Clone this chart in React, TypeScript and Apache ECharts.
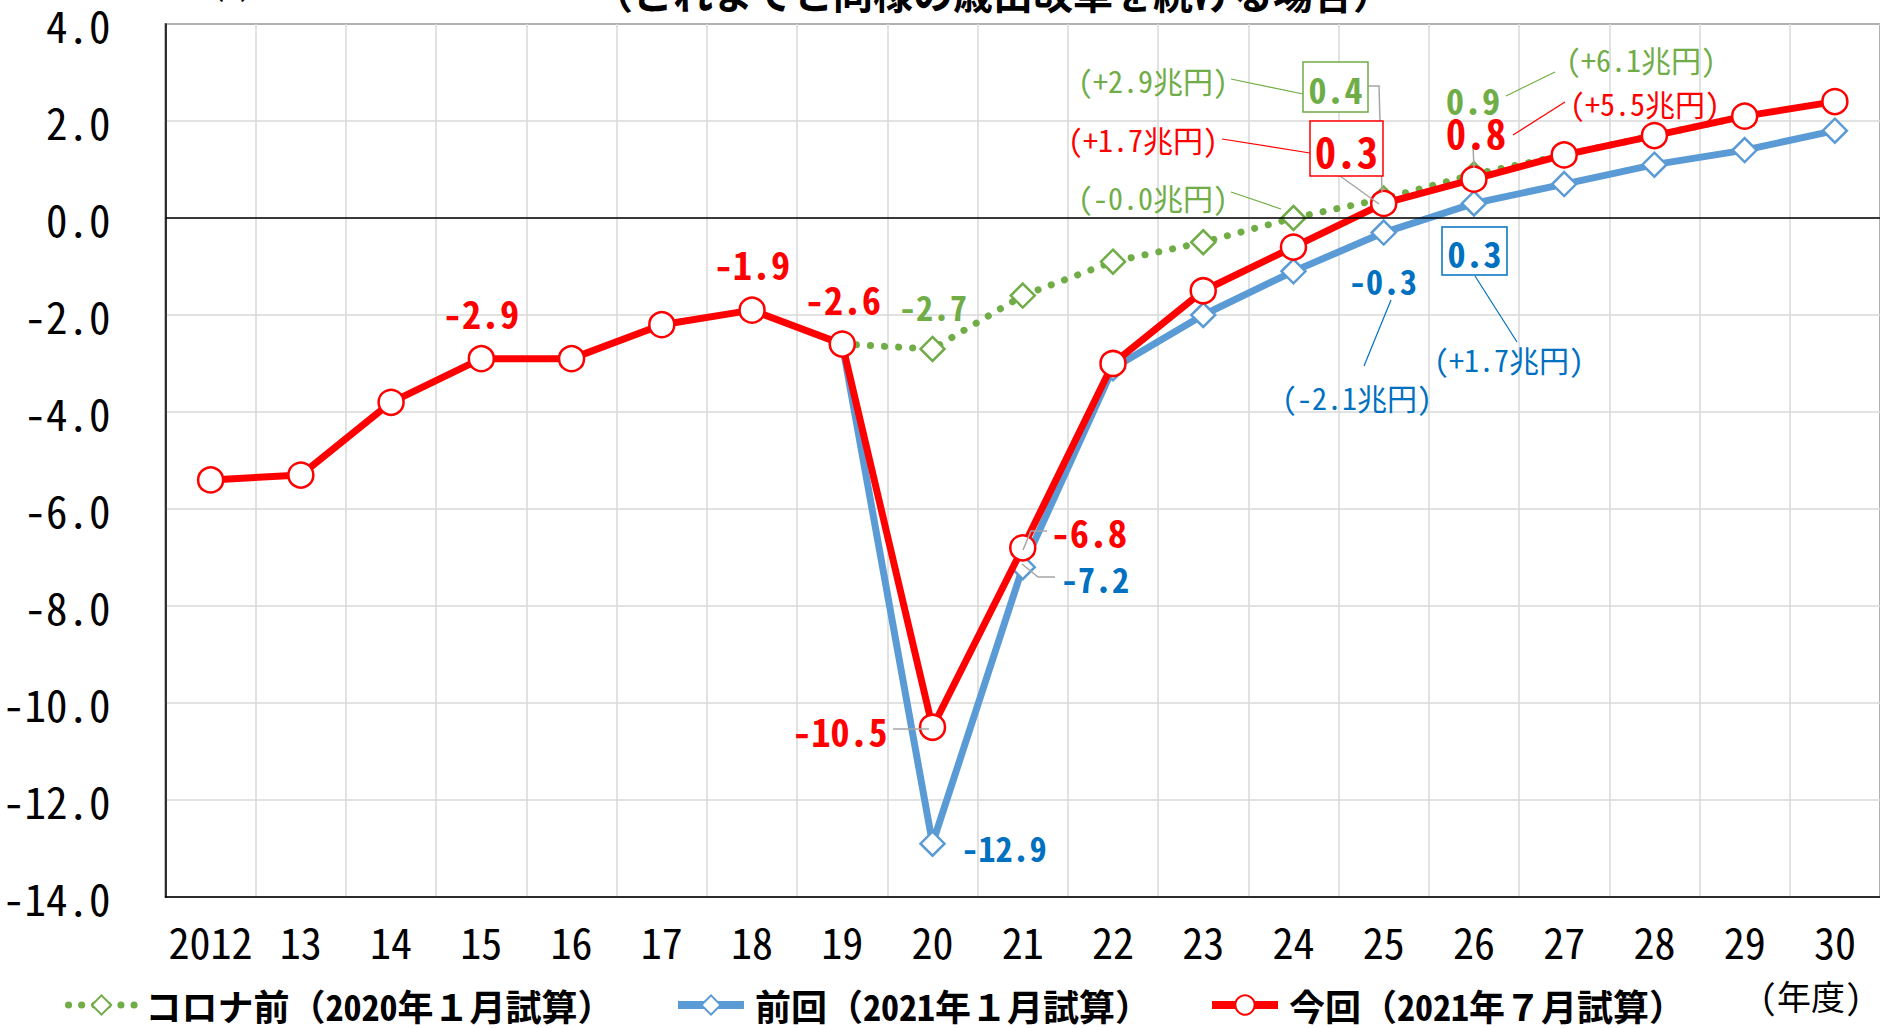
import React, { useEffect, useRef } from "react";
import * as echarts from "echarts";

const years = ["2012", "13", "14", "15", "16", "17", "18", "19", "20", "21", "22", "23", "24", "25", "26", "27", "28", "29", "30"];
const coronaMae = [null, null, null, null, null, null, null, -2.6, -2.7, -1.6, -0.9, -0.5, 0.0, 0.4, 0.9, 1.3, 1.7, 2.1, null];
const zenkai = [null, null, null, null, null, null, null, -2.6, -12.9, -7.2, -3.1, -2.0, -1.1, -0.3, 0.3, 0.7, 1.1, 1.4, 1.8];
const konkai = [-5.4, -5.3, -3.8, -2.9, -2.9, -2.2, -1.9, -2.6, -10.5, -6.8, -3.0, -1.5, -0.6, 0.3, 0.8, 1.3, 1.7, 2.1, 2.4];
const yTicks = { min: -14, max: 4, interval: 2 };
const seriesNames = ["コロナ前（2020年１月試算）", "前回（2021年１月試算）", "今回（2021年７月試算）"];

const FONT = '"Noto Sans Mono CJK JP", "Noto Sans CJK JP", sans-serif';
const RED = "#ff0000";
const GREEN = "#70ad47";
const BLUE_LINE = "#5b9bd5";
const BLUE_TEXT = "#0070c0";
const GRAY = "#a6a6a6";

type Ann = { t: string; x: number; y: number; c: string; s: number; b?: boolean };
const texts: Ann[] = [
  { t: "-2.9", x: 481, y: 312, c: RED, s: 38, b: true },
  { t: "-1.9", x: 752, y: 263, c: RED, s: 38, b: true },
  { t: "-2.6", x: 843, y: 298, c: RED, s: 38, b: true },
  { t: "-2.7", x: 933, y: 306, c: GREEN, s: 34, b: true },
  { t: "-10.5", x: 840, y: 730, c: RED, s: 38, b: true },
  { t: "-12.9", x: 1004, y: 847, c: BLUE_TEXT, s: 34, b: true },
  { t: "-6.8", x: 1089, y: 531, c: RED, s: 38, b: true },
  { t: "-7.2", x: 1095, y: 578, c: BLUE_TEXT, s: 34, b: true },
  { t: "-0.3", x: 1383, y: 280, c: BLUE_TEXT, s: 34, b: true },
  { t: "(-2.1兆円)", x: 1357, y: 397, c: BLUE_TEXT, s: 30 },
  { t: "(+1.7兆円)", x: 1509, y: 359, c: BLUE_TEXT, s: 30 },
  { t: "(-0.0兆円)", x: 1153, y: 197, c: GREEN, s: 30 },
  { t: "(+2.9兆円)", x: 1153, y: 80, c: GREEN, s: 30 },
  { t: "(+1.7兆円)", x: 1143, y: 139, c: RED, s: 30 },
  { t: "0.9", x: 1473, y: 99, c: GREEN, s: 36, b: true },
  { t: "(+6.1兆円)", x: 1641, y: 59, c: GREEN, s: 30 },
  { t: "0.8", x: 1476, y: 132, c: RED, s: 40, b: true },
  { t: "(+5.5兆円)", x: 1645, y: 103, c: RED, s: 30 },
];
const boxes = [
  { t: "0.3", x: 1442, y: 227, w: 65, h: 48, c: BLUE_TEXT, s: 36 },
  { t: "0.4", x: 1303, y: 62, w: 65, h: 50, c: GREEN, s: 36 },
  { t: "0.3", x: 1310, y: 121, w: 73, h: 55, c: RED, s: 42 },
];
const leaders: { p: number[][]; c: string; w: number }[] = [
  { p: [[893, 729], [929, 729]], c: GRAY, w: 1.5 },
  { p: [[1023, 550], [1031, 531], [1047, 531]], c: GRAY, w: 1.5 },
  { p: [[1022, 564], [1038, 577], [1055, 577]], c: GRAY, w: 1.5 },
  { p: [[1364, 366], [1391, 300]], c: BLUE_TEXT, w: 1.2 },
  { p: [[1475, 276], [1517, 342]], c: BLUE_TEXT, w: 1.2 },
  { p: [[1231, 192], [1281, 209]], c: GREEN, w: 1.2 },
  { p: [[1231, 79], [1303, 94]], c: GREEN, w: 1.2 },
  { p: [[1368, 86], [1379, 86], [1382, 192]], c: GRAY, w: 1.5 },
  { p: [[1222, 139], [1310, 153]], c: RED, w: 1.2 },
  { p: [[1340, 176], [1379, 204]], c: GRAY, w: 1.5 },
  { p: [[1555, 72], [1506, 96]], c: GREEN, w: 1.2 },
  { p: [[1473, 146], [1474, 168]], c: GRAY, w: 1.5 },
  { p: [[1565, 102], [1513, 135]], c: RED, w: 1.2 },
];

function txt(t: string, x: number, y: number, c: string, s: number, b?: boolean) {
  return {
    type: "text",
    x,
    y,
    z: 100,
    style: {
      text: t,
      fill: c,
      font: `${b ? "bold " : ""}${s}px ${FONT}`,
      align: "center",
      verticalAlign: "middle",
    },
  };
}

export default function App() {
  const ref = useRef<HTMLDivElement>(null);
  useEffect(() => {
    document.body.style.margin = "0";
    if (!ref.current) return;
    const chart = echarts.init(ref.current, undefined, { renderer: "svg" });
    const graphic: any[] = [];
    graphic.push(txt("（これまでと同様の歳出改革を続ける場合）", 993, -8, "#000", 40, true));
    graphic.push(txt("（%）", 232, -14, "#000", 30));
    graphic.push(txt("(年度)", 1811, 995, "#000", 34));
    leaders.forEach((l) => {
      graphic.push({
        type: "polyline",
        z: 99,
        shape: { points: l.p },
        style: { stroke: l.c, lineWidth: l.w, fill: "none" },
      });
    });
    boxes.forEach((b) => {
      graphic.push({
        type: "rect",
        z: 100,
        shape: { x: b.x, y: b.y, width: b.w, height: b.h },
        style: { fill: "#fff", stroke: b.c, lineWidth: 1.5 },
      });
      graphic.push(txt(b.t, b.x + b.w / 2, b.y + b.h / 2 + 1, b.c, b.s, true));
    });
    texts.forEach((a) => graphic.push(txt(a.t, a.x, a.y, a.c, a.s, a.b)));

    const legendBase = {
      top: 981,
      itemWidth: 66,
      itemHeight: 24,
      textStyle: { fontFamily: FONT, fontSize: 36, lineHeight: 38, color: "#000", fontWeight: "bold", padding: [0, 0, 0, 6] },
    };

    chart.setOption({
      animation: false,
      backgroundColor: "#fff",
      grid: {
        left: 165,
        top: 24,
        width: 1715,
        height: 873,
        show: true,
        borderColor: "#000",
        borderWidth: 1.5,
        containLabel: false,
      },
      legend: [
        { ...legendBase, left: 60, data: [seriesNames[0]], lineStyle: { width: 7, type: [0.1, 13], cap: "round" } },
        { ...legendBase, left: 669, data: [seriesNames[1]], lineStyle: { width: 8 } },
        { ...legendBase, left: 1203, data: [seriesNames[2]], lineStyle: { width: 8 } },
      ],
      xAxis: {
        type: "category",
        data: years,
        boundaryGap: true,
        axisLine: { show: true, onZero: false, lineStyle: { color: "#000", width: 1.5 } },
        axisTick: { show: false },
        axisLabel: { interval: 0, margin: 22, fontFamily: FONT, fontSize: 42, color: "#000" },
        splitLine: { show: true, interval: 0, lineStyle: { color: "#d9d9d9", width: 1.5 } },
      },
      yAxis: {
        type: "value",
        min: yTicks.min,
        max: yTicks.max,
        interval: yTicks.interval,
        axisLine: { show: true, lineStyle: { color: "#000", width: 1.5 } },
        axisTick: { show: false },
        axisLabel: {
          margin: 55,
          fontFamily: FONT,
          fontSize: 43,
          color: "#000",
          formatter: (v: number) => v.toFixed(1),
        },
        splitLine: { show: true, lineStyle: { color: "#d9d9d9", width: 1.5 } },
      },
      series: [
        {
          name: seriesNames[0],
          type: "line",
          z: 2,
          data: coronaMae,
          symbol: "diamond",
          symbolSize: 24,
          showAllSymbol: true,
          lineStyle: { color: GREEN, width: 7, type: [0.1, 14], cap: "round" },
          itemStyle: { color: "#fff", borderColor: GREEN, borderWidth: 2.5 },
          markLine: {
            silent: true,
            symbol: ["none", "none"],
            label: { show: false },
            lineStyle: { color: "#000", width: 1.5, type: "solid" },
            data: [{ yAxis: 0 }],
          },
        },
        {
          name: seriesNames[1],
          type: "line",
          z: 3,
          data: zenkai,
          symbol: "diamond",
          symbolSize: 24,
          showAllSymbol: true,
          lineStyle: { color: BLUE_LINE, width: 7 },
          itemStyle: { color: "#fff", borderColor: BLUE_LINE, borderWidth: 2.5 },
        },
        {
          name: seriesNames[2],
          type: "line",
          z: 4,
          data: konkai,
          symbol: "circle",
          symbolSize: 25,
          showAllSymbol: true,
          lineStyle: { color: RED, width: 7 },
          itemStyle: { color: "#fff", borderColor: RED, borderWidth: 2.5 },
        },
      ],
      graphic,
    });
    return () => chart.dispose();
  }, []);
  return <div ref={ref} style={{ width: 1880, height: 1028 }} />;
}
